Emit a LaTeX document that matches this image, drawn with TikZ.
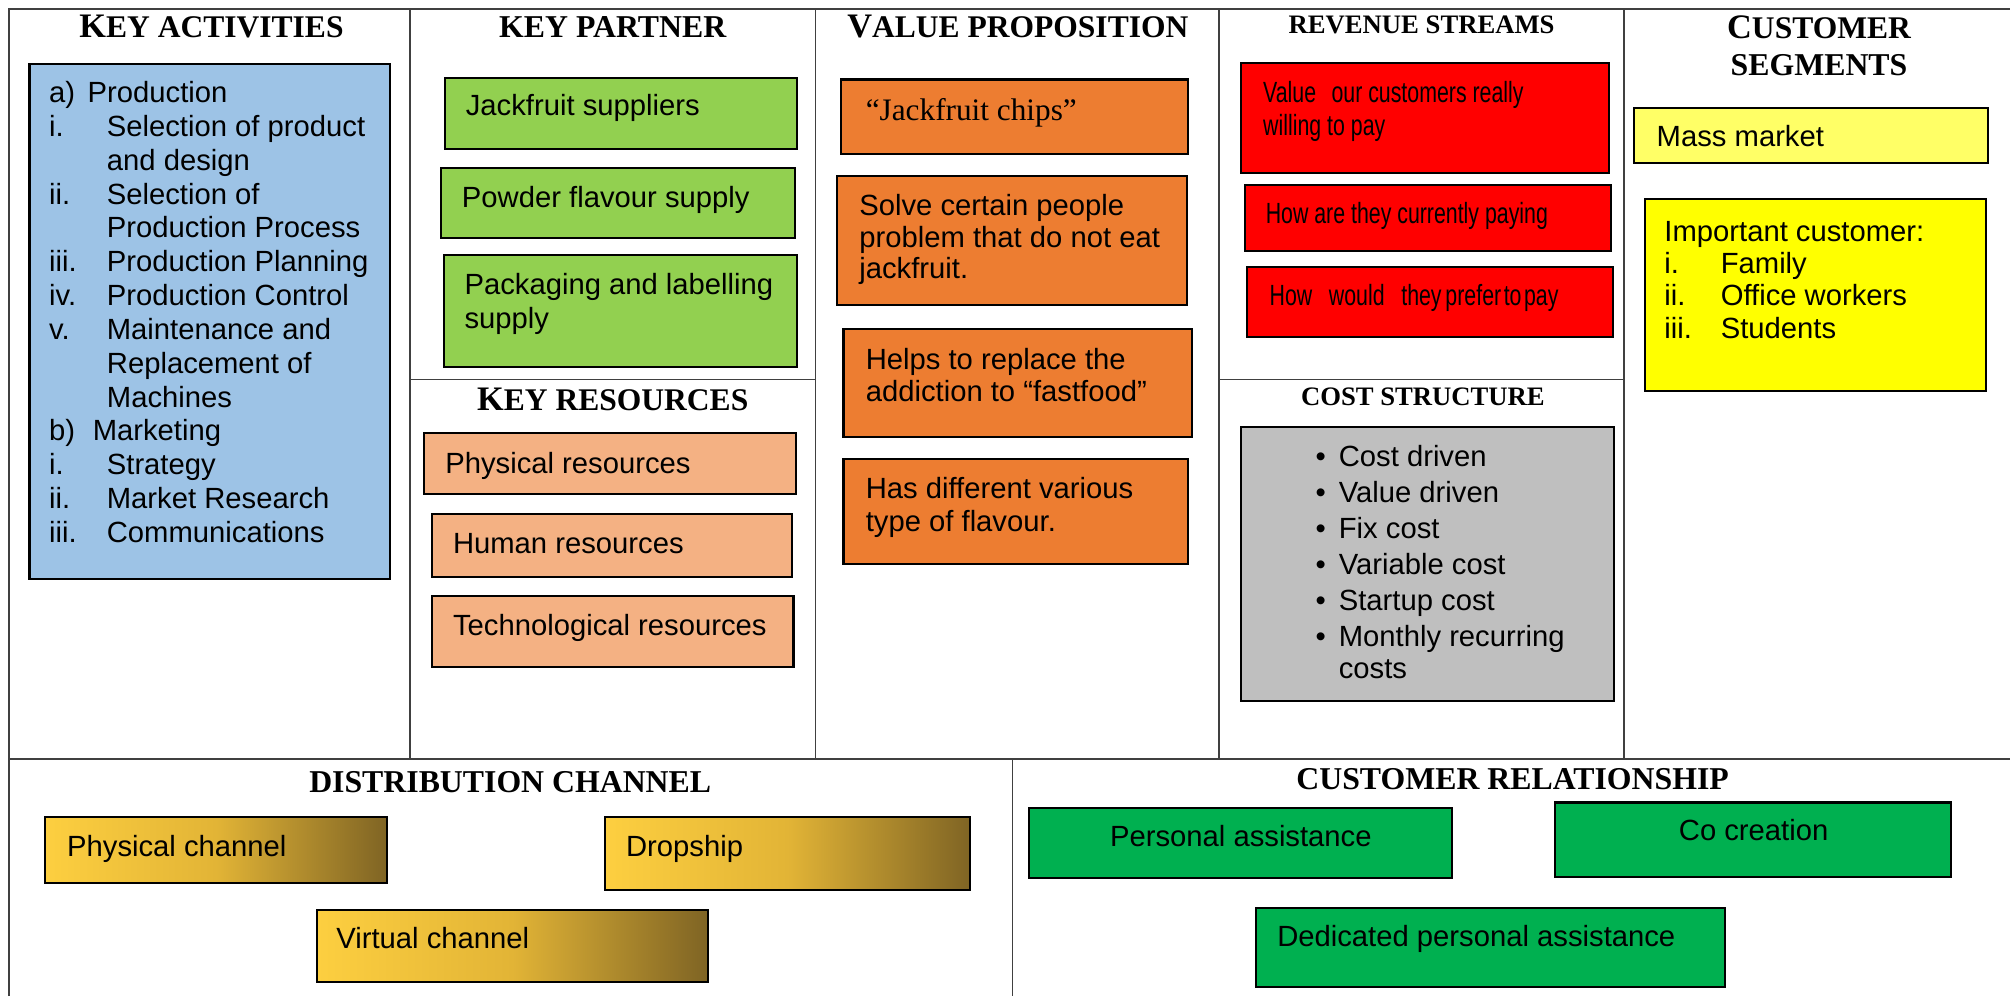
\documentclass[tikz,border=0pt]{standalone}
\usepackage{fontspec}
\setmainfont{Liberation Sans}
\newfontfamily\tnrfont{Liberation Serif}
\newfontfamily\narrowfont[FakeStretch=0.73]{Liberation Sans}
\usetikzlibrary{fit}
\definecolor{kablue}{HTML}{9DC3E6}
\definecolor{kpgreen}{HTML}{92D050}
\definecolor{krpeach}{HTML}{F4B183}
\definecolor{vporange}{HTML}{ED7D31}
\definecolor{rsred}{HTML}{FF0000}
\definecolor{csgray}{HTML}{BFBFBF}
\definecolor{mmyellow}{HTML}{FFFF66}
\definecolor{icyellow}{HTML}{FFFF00}
\definecolor{crgreen}{HTML}{00B050}
\definecolor{goldL}{HTML}{FDCF40}
\definecolor{goldM}{HTML}{E2B436}
\definecolor{goldR}{HTML}{7F6424}
\definecolor{framecol}{HTML}{404040}
\newcommand\capfirst[2]{{\fontsize{13.4}{15}\selectfont #1}{\fontsize{12.3}{15}\selectfont #2}}
\begin{document}
\begin{tikzpicture}[x=0.5pt,y=-0.5pt,
  box/.style={draw=black, line width=0.8pt, inner sep=0pt},
  body/.style={font=\fontsize{11.4}{13.2}\selectfont, inner sep=0pt, anchor=base west, align=flush left},
  narrowbody/.style={font=\narrowfont\fontsize{11.4}{13}\selectfont, inner sep=0pt, anchor=base west, align=flush left},
  heading/.style={font=\tnrfont\bfseries\fontsize{12.4}{15}\selectfont, inner sep=0pt, anchor=base},
  smallheading/.style={font=\tnrfont\bfseries\fontsize{10.4}{13}\selectfont, inner sep=0pt, anchor=base},
  frame/.style={draw=framecol, line width=0.6pt},
  thickframe/.style={draw=framecol, line width=1pt},
  goldbox/.style={box, left color=goldL, right color=goldR, middle color=goldM}]
\useasboundingbox (0,0) rectangle (1568,777);
\fill[white] (0,0) rectangle (1568,777);
% ---------- frame ----------
\draw[thickframe] (7,777) -- (7,7) -- (1568,7);
\draw[thickframe] (7,592) -- (1568,592);
\foreach \x in {320,636,951,1267} \draw[frame] (\x,7) -- (\x,592);
\draw[frame] (320,296) -- (636,296);
\draw[frame] (951,296) -- (1267,296);
\draw[frame] (790,592) -- (790,777);
% ---------- headings ----------
\node[heading] (h-ka) at (165,29) {\capfirst{K}{EY ACTIVITIES}};
\node[heading] (h-kp) at (478,29) {KEY PARTNER};
\node[heading] (h-kr) at (478,320) {\capfirst{K}{EY RESOURCES}};
\node[heading] (h-vp) at (794,29) {\capfirst{V}{ALUE PROPOSITION}};
\node[smallheading] (h-rs) at (1109,26) {REVENUE STREAMS};
\node[smallheading] (h-cs) at (1110,316) {COST STRUCTURE};
\node[heading] (h-cu1) at (1419,30) {\capfirst{C}{USTOMER}};
\node[heading] (h-cu2) at (1419,59) {SEGMENTS};
\node[heading] (h-dc) at (398,618) {DISTRIBUTION CHANNEL};
\node[heading] (h-cr) at (1180,616) {CUSTOMER RELATIONSHIP};
% ---------- key activities ----------
\node[box, fill=kablue, fit={(23,50) (304,452)}] (ka) {};
\node[body, text width=140pt] (ka-t) at (38,80) {\makebox[15pt][l]{a)}Production\\
\makebox[22.5pt][l]{i.}Selection of product\\
\hspace*{22.5pt}and design\\
\makebox[22.5pt][l]{ii.}Selection of\\
\hspace*{22.5pt}Production Process\\
\makebox[22.5pt][l]{iii.}Production Planning\\
\makebox[22.5pt][l]{iv.}Production Control\\
\makebox[22.5pt][l]{v.}Maintenance and\\
\hspace*{22.5pt}Replacement of\\
\hspace*{22.5pt}Machines\\
\makebox[17pt][l]{b)}Marketing\\
\makebox[22.5pt][l]{i.}Strategy\\
\makebox[22.5pt][l]{ii.}Market Research\\
\makebox[22.5pt][l]{iii.}Communications};
% ---------- key partner ----------
\node[box, fill=kpgreen, fit={(347,61) (622,116)}] (kp1) {};
\node[body] (kp1-t) at (363,90) {Jackfruit suppliers};
\node[box, fill=kpgreen, fit={(344,131) (620,186)}] (kp2) {};
\node[body] (kp2-t) at (360,162) {Powder flavour supply};
\node[box, fill=kpgreen, fit={(346,199) (622,286)}] (kp3) {};
\node[body, text width=130pt] (kp3-t) at (362,230) {Packaging and labelling\\supply};
% ---------- key resources ----------
\node[box, fill=krpeach, fit={(331,338) (621,385)}] (kr1) {};
\node[body] (kr1-t) at (347,369) {Physical resources};
\node[box, fill=krpeach, fit={(337,401) (618,450)}] (kr2) {};
\node[body] (kr2-t) at (353,432) {Human resources};
\node[box, fill=krpeach, fit={(337,465) (619,520)}] (kr3) {};
\node[body] (kr3-t) at (353,496) {Technological resources};
% ---------- value proposition ----------
\node[box, fill=vporange, fit={(656,62) (927,120)}] (vp1) {};
\node[body, font=\tnrfont\fontsize{12.2}{14}\selectfont] (vp1-t) at (675,94) {“Jackfruit chips”};
\node[box, fill=vporange, fit={(653,137) (926,238)}] (vp2) {};
\node[body, font=\fontsize{11.4}{12.4}\selectfont, text width=130pt] (vp2-t) at (670,168) {Solve certain people\\problem that do not eat\\jackfruit.};
\node[box, fill=vporange, fit={(658,257) (930,341)}] (vp3) {};
\node[body, font=\fontsize{11.4}{12.6}\selectfont, text width=130pt] (vp3-t) at (675,288) {Helps to replace the\\addiction to “fastfood”};
\node[box, fill=vporange, fit={(658,358) (927,440)}] (vp4) {};
\node[body, font=\fontsize{11.4}{13}\selectfont, text width=130pt] (vp4-t) at (675,389) {Has different various\\type of flavour.};
% ---------- revenue streams ----------
\node[box, fill=rsred, fit={(968,49) (1255,135)}] (rs1) {};
\node[narrowbody, text width=135pt] (rs1-t) at (985,80) {Value\hspace{6pt}our customers really\\willing to pay};
\node[box, fill=rsred, fit={(971,144) (1257,196)}] (rs2) {};
\node[narrowbody] (rs2-t) at (987,174) {How are they currently paying};
\node[box, fill=rsred, fit={(973,208) (1258,263)}] (rs3) {};
\node[narrowbody] (rs3-t) at (990,238) {How\hspace{6.5pt}would\hspace{6.5pt}they\hspace{1.5pt}prefer\hspace{1pt}to\hspace{1pt}pay};
% ---------- cost structure ----------
\node[box, fill=csgray, fit={(968,333) (1259,547)}] (cs) {};
\node[body, font=\fontsize{11.4}{12.6}\selectfont, text width=120pt] (cs-t) at (1026,364) {\makebox[9pt][l]{\textbullet}Cost driven\\[1.4pt]
\makebox[9pt][l]{\textbullet}Value driven\\[1.4pt]
\makebox[9pt][l]{\textbullet}Fix cost\\[1.4pt]
\makebox[9pt][l]{\textbullet}Variable cost\\[1.4pt]
\makebox[9pt][l]{\textbullet}Startup cost\\[1.4pt]
\makebox[9pt][l]{\textbullet}Monthly recurring\\
\hspace*{9pt}costs};
% ---------- customer segments ----------
\node[box, fill=mmyellow, fit={(1275,84) (1551,127)}] (mm) {};
\node[body] (mm-t) at (1292,114) {Mass market};
\node[box, fill=icyellow, fit={(1283,155) (1549,305)}] (ic) {};
\node[body, font=\fontsize{11.4}{12.65}\selectfont, text width=125pt] (ic-t) at (1298,188) {Important customer:\\
\makebox[22pt][l]{i.}Family\\
\makebox[22pt][l]{ii.}Office workers\\
\makebox[22pt][l]{iii.}Students};
% ---------- distribution channel ----------
\node[goldbox, fit={(35,637) (302,689)}] (dc1) {};
\node[body] (dc1-t) at (52,668) {Physical channel};
\node[goldbox, fit={(472,637) (757,694)}] (dc2) {};
\node[body] (dc2-t) at (488,668) {Dropship};
\node[goldbox, fit={(247,710) (552,766)}] (dc3) {};
\node[body] (dc3-t) at (262,740) {Virtual channel};
% ---------- customer relationship ----------
\node[box, fill=crgreen, fit={(803,630) (1133,685)}] (cr1) {};
\node[body, anchor=base] (cr1-t) at (968,660) {Personal assistance};
\node[box, fill=crgreen, fit={(1213,626) (1522,684)}] (cr2) {};
\node[body, anchor=base] (cr2-t) at (1368,656) {Co creation};
\node[box, fill=crgreen, fit={(980,708) (1346,770)}] (cr3) {};
\node[body] (cr3-t) at (996,738) {Dedicated personal assistance};
\end{tikzpicture}
\end{document}
